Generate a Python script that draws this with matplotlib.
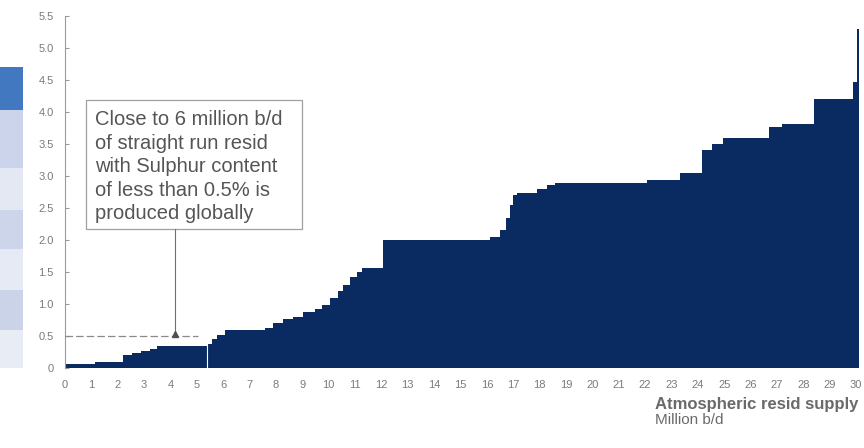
import matplotlib
matplotlib.use("Agg")
import matplotlib.pyplot as plt
from matplotlib.patches import Rectangle

# ---- data ----
supply_edges = [0, 1.14, 2.2, 2.54, 2.88, 3.23, 3.49, 5.39, 5.58, 5.77,
                6.07, 7.59, 7.89, 8.27, 8.65, 9.03, 9.49, 9.75, 10.06, 10.36,
                10.55, 10.82, 11.08, 11.27, 12.07, 16.13, 16.51, 16.74, 16.89, 17.0,
                17.15, 17.91, 18.29, 18.6, 22.09, 23.34, 24.17, 24.55, 24.97, 26.68,
                27.21, 28.39, 29.87, 30.02, 30.1]
sulphur_pct = [0.07, 0.1, 0.2, 0.23, 0.27, 0.3, 0.34, 0.38, 0.46, 0.52,
               0.6, 0.63, 0.7, 0.77, 0.8, 0.87, 0.92, 0.98, 1.1, 1.2,
               1.3, 1.42, 1.5, 1.56, 2.0, 2.04, 2.15, 2.35, 2.55, 2.7,
               2.73, 2.8, 2.86, 2.89, 2.93, 3.05, 3.4, 3.5, 3.6, 3.77,
               3.82, 4.2, 4.47, 5.3]
y_ticks = [0, 0.5, 1.0, 1.5, 2.0, 2.5, 3.0, 3.5, 4.0, 4.5, 5.0, 5.5]
y_ticklabels = ["0", "0.5", "1.0", "1.5", "2.0", "2.5", "3.0", "3.5", "4.0", "4.5", "5.0", "5.5"]
x_ticks = list(range(0, 31))
threshold_pct = 0.5
threshold_supply = 5.05
low_s_supply = 5.39
note_x = 4.17
note_text = ("Close to 6 million b/d\nof straight run resid\nwith Sulphur content\n"
             "of less than 0.5% is\nproduced globally")

plt.rcParams['font.family'] = ['Liberation Sans', 'DejaVu Sans']

W, H = 864, 448
fig = plt.figure(figsize=(W / 100, H / 100), dpi=100)

# decorative cropped table strip on the far left
strip = [(67, 110, "#4178c0"), (110, 168, "#cbd4ea"), (168, 210, "#e4e8f3"),
         (210, 249, "#cdd5ea"), (249, 290, "#e6eaf4"), (290, 330, "#cad3e8"),
         (330, 368, "#e8ecf5")]
for y0, y1, c in strip:
    fig.patches.append(Rectangle((0, 1 - y1 / H), 23 / W, (y1 - y0) / H,
                                 transform=fig.transFigure, color=c, lw=0, zorder=0))

ax = fig.add_axes([65 / W, 1 - 368 / H, (858.7 - 65) / W, (368 - 16) / H])
ax.stairs(sulphur_pct, supply_edges, fill=True, baseline=0, color="#0a2a62", zorder=2)

ax.set_xlim(0, 30.1)
ax.set_ylim(0, 5.5)

for s in ["top", "right", "bottom"]:
    ax.spines[s].set_visible(False)
ax.spines["left"].set_color("#9a9a9a")
ax.spines["left"].set_linewidth(0.8)

ax.set_yticks(y_ticks)
ax.set_yticklabels(y_ticklabels)
ax.set_xticks(x_ticks)
ax.set_xticklabels([str(v) for v in x_ticks])
ax.tick_params(axis="y", direction="in", length=3, width=0.8, color="#9a9a9a",
               labelsize=8, labelcolor="#7a7a7a", pad=8)
ax.tick_params(axis="x", length=0, labelsize=8, labelcolor="#7a7a7a", pad=9)

# threshold dashed line and low-sulphur divider
ax.plot([0, threshold_supply], [threshold_pct, threshold_pct], ls=(0, (6, 2.5)),
        color="#8a8a8a", lw=0.9, zorder=3)
ax.plot([low_s_supply, low_s_supply], [0, 0.37], color="white", lw=0.8, zorder=3)

# annotation box
bx0, bx1, by0, by1 = 0.8, 8.99, 2.17, 4.19
ax.add_patch(Rectangle((bx0, by0), bx1 - bx0, by1 - by0, fill=False,
                       ec="#a0a0a0", lw=0.9, zorder=3))
ax.text(1.12, 4.03, note_text, ha="left", va="top", fontsize=14.5, color="#555555",
        linespacing=1.3, zorder=4)
ax.plot([note_x, note_x], [by0, 0.53], color="#707070", lw=0.8, zorder=3)
ax.plot([note_x], [0.535], marker="^", ms=5, color="#505050", zorder=4)

# x-axis title
t1 = fig.text(858 / W, 1 - 404 / H, "Atmospheric resid supply", ha="right", va="center",
              fontsize=12, fontweight="bold", color="#6a6a6a")
fig.canvas.draw()
bb = t1.get_window_extent()
fig.text(bb.x0 / W, 1 - 420 / H, "Million b/d", ha="left", va="center",
         fontsize=11, color="#6a6a6a")

fig.savefig("out.png", dpi=100)
